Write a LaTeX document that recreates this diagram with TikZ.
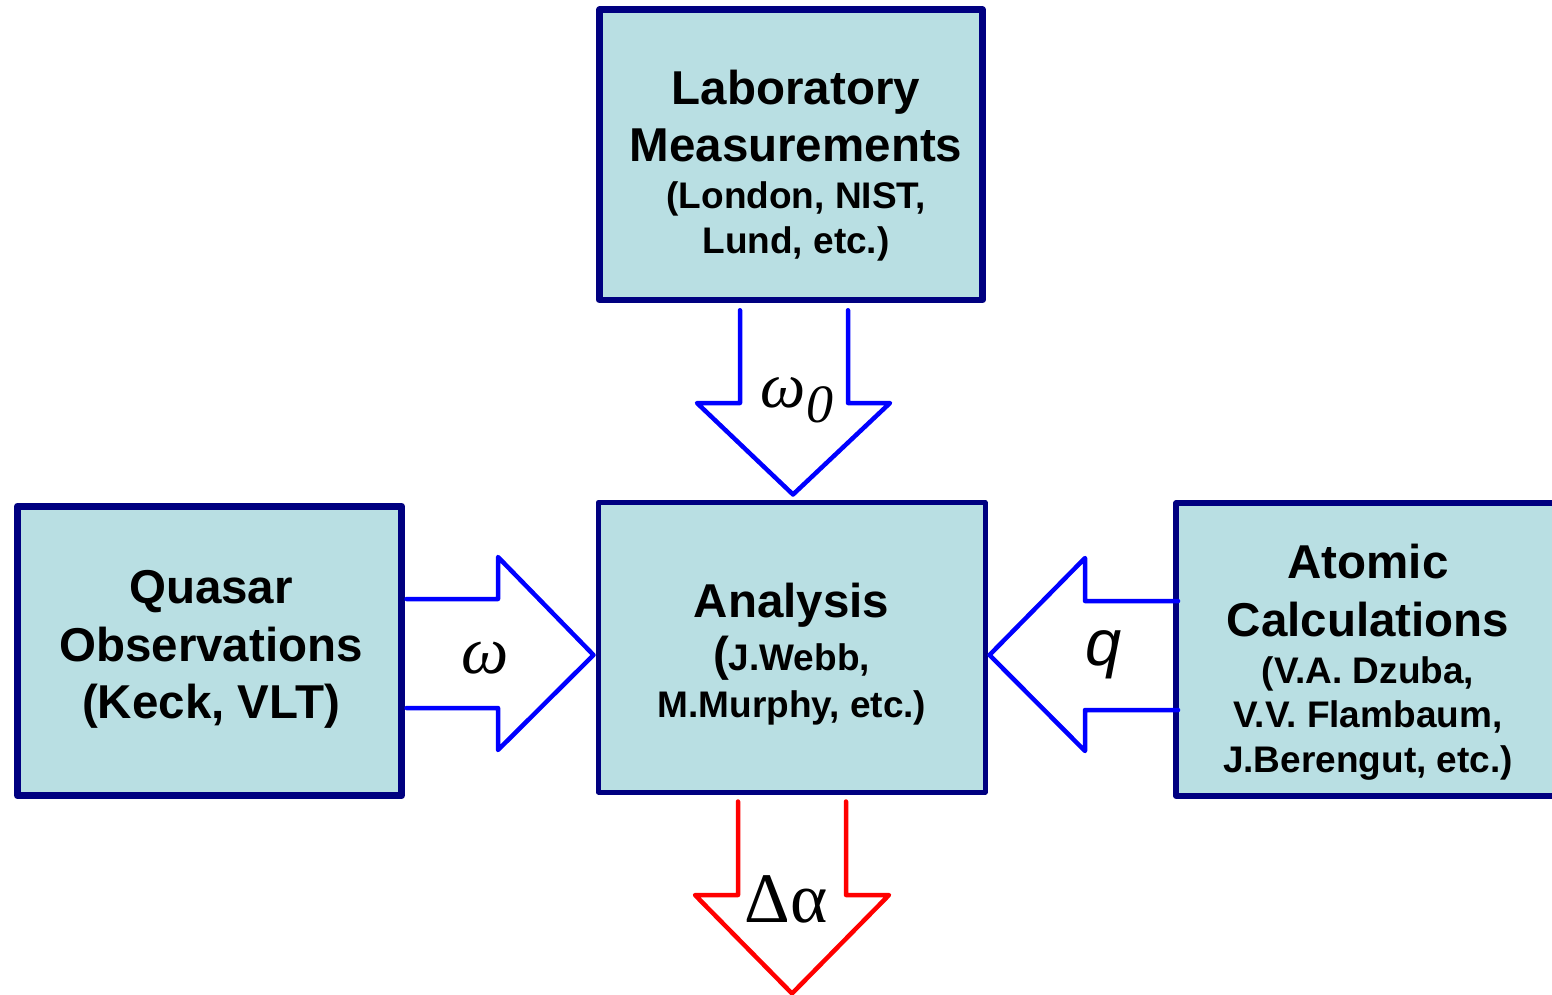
\documentclass[tikz,border=0pt]{standalone}
\usepackage{fontspec}
\setmainfont{Liberation Sans}
\newfontfamily\tnr{Liberation Serif}
\usetikzlibrary{calc}
\definecolor{boxfill}{RGB}{185,223,227}
\definecolor{boxline}{RGB}{0,0,128}
\definecolor{arrblue}{RGB}{0,0,255}
\definecolor{arrred}{RGB}{255,0,0}
\begin{document}
\begin{tikzpicture}[x=1pt,y=-1pt,
  box/.style={draw=boxline, fill=boxfill, rectangle, inner sep=0pt, line join=round},
  big/.style={font=\bfseries\fontsize{47.5}{57}\selectfont, anchor=base, inner sep=0pt},
  small/.style={font=\bfseries\fontsize{37}{45}\selectfont, anchor=base, inner sep=0pt},
  blockarrow/.style={line width=4.5pt, line join=round, line cap=round},
  sym/.style={inner sep=0pt}
]
\useasboundingbox (0,0) rectangle (1552,994);
\clip (0,0) rectangle (1552,994);
\fill[white] (0,0) rectangle (1552,994);

% boxes
\node[box, line width=6.5pt, minimum width=383pt, minimum height=290.5pt] (lab) at (791,154.75) {};
\node[box, line width=5pt, minimum width=386.7pt, minimum height=289.5pt] (ana) at (791.65,647.25) {};
\node[box, line width=7pt, minimum width=384pt, minimum height=289.7pt] (qua) at (209.5,650.85) {};
\node[box, line width=6pt, minimum width=383.7pt, minimum height=292.4pt] (atom) at (1368.15,649.5) {};

% texts
\node[big] (lab1) at (796,104) {Laboratory};
\node[big] (lab2) at (796,161) {Measurements};
\node[small] (lab3) at (796,208) {(London, NIST,};
\node[small] (lab4) at (796,253) {Lund, etc.)};

\node[big] (qua1) at (211,603) {Quasar};
\node[big] (qua2) at (211,661) {Observations};
\node[big] (qua3) at (211,718) {(Keck, VLT)};

\node[big] (ana1) at (791.5,617) {Analysis};
\node[small] (ana2) at (791.5,670) {{\fontsize{47.5}{57}\selectfont(}J.Webb,};
\node[small] (ana3) at (792,717) {M.Murphy, etc.)};

\node[big] (atom1) at (1368,578) {Atomic};
\node[big] (atom2) at (1368,636) {Calculations};
\node[small] (atom3) at (1368,683) {(V.A. Dzuba,};
\node[small] (atom4) at (1368,727) {V.V. Flambaum,};
\node[small] (atom5) at (1368,772) {J.Berengut, etc.)};

% block arrows
\draw[blockarrow, draw=arrblue] ($(lab.south)+(-51,7)$) -- (740,403) -- (697,403)
   -- ($(ana.north)+(1.35,-5.5)$) -- (890,403) -- (848,403) -- ($(lab.south)+(57,7)$);
\draw[blockarrow, draw=arrblue] ($(qua.east)+(1.5,-51.85)$) -- (498,599) -- (498,557)
   -- ($(ana.west)+(-2.3,7.75)$) -- (498,750) -- (498,708) -- ($(qua.east)+(1.5,57.15)$);
\draw[blockarrow, draw=arrblue] ($(atom.west)+(4.7,-48.5)$) -- (1085,601) -- (1085,558)
   -- ($(ana.east)+(2,7.75)$) -- (1085,751) -- (1085,710) -- ($(atom.west)+(4.7,60.5)$);
\draw[blockarrow, draw=arrred] ($(ana.south)+(-53.65,7)$) -- (738,895) -- (695,895)
   -- ($(ana.south)+(0.35,199)$) -- (889,895) -- (846,895) -- ($(ana.south)+(54.35,7)$);

% arrow labels
\node[sym, font=\tnr\itshape\fontsize{64}{64}\selectfont] (w0) at (797,400) {ω\raisebox{-15pt}{\fontsize{54}{54}\selectfont 0}};
\node[sym, font=\tnr\itshape\fontsize{67}{67}\selectfont] (w) at (485,658) {ω};
\node[sym, font=\itshape\fontsize{65}{65}\selectfont] (q) at (1104,655) {q};
\node[sym, font=\tnr\fontsize{71}{71}\selectfont] (da) at (786,899) {Δα};
\end{tikzpicture}
\end{document}
